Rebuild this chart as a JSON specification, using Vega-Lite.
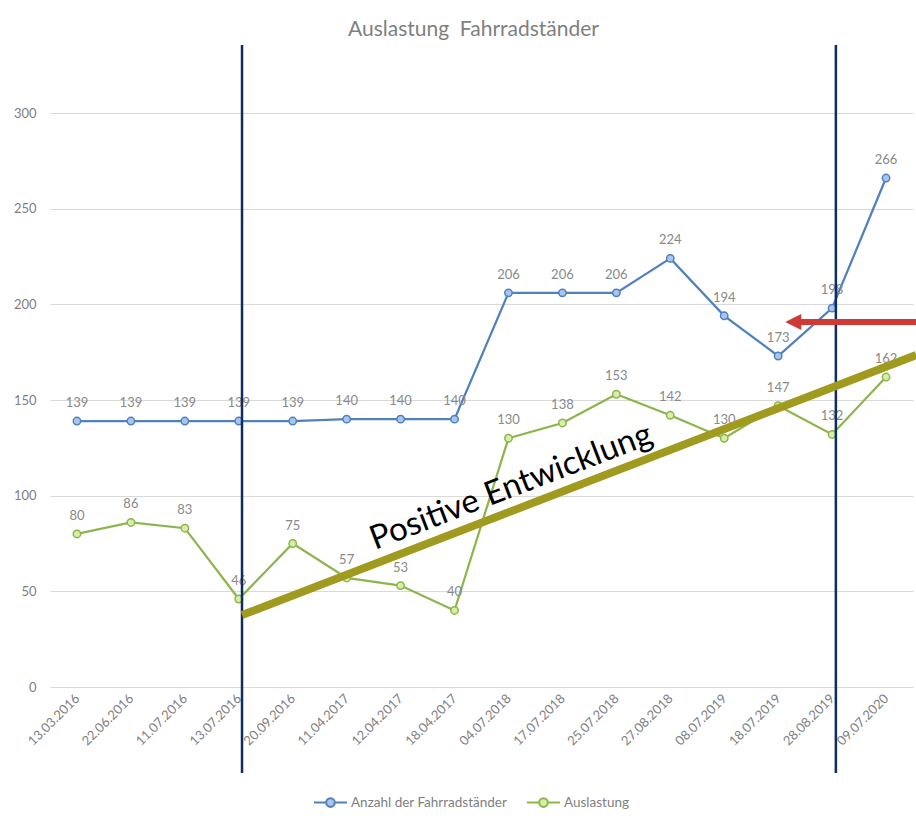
{
  "$schema": "https://vega.github.io/schema/vega-lite/v6.json",
  "width": 863,
  "height": 574,
  "autosize": {"type": "none"},
  "padding": {"left": 50, "top": 113, "right": 3, "bottom": 137},
  "background": "white",
  "config": {
    "view": {"stroke": null},
    "font": "Lato",
    "axis": {"labelFont": "Lato", "labelColor": "#7f7f7f", "labelFontSize": 13},
    "legend": {"labelFont": "Lato", "labelColor": "#7f7f7f", "labelFontSize": 13.5}
  },
  "title": {
    "text": "Auslastung\u00a0 Fahrradständer",
    "fontSize": 21,
    "fontWeight": "normal",
    "color": "#7f7f7f",
    "font": "Lato",
    "frame": "group",
    "anchor": "middle",
    "dx": -8,
    "offset": 4
  },
  "datasets": {
    "main": [
      {"i": 0, "date": "13.03.2016", "series": "Anzahl der Fahrradständer", "value": 139},
      {"i": 1, "date": "22.06.2016", "series": "Anzahl der Fahrradständer", "value": 139},
      {"i": 2, "date": "11.07.2016", "series": "Anzahl der Fahrradständer", "value": 139},
      {"i": 3, "date": "13.07.2016", "series": "Anzahl der Fahrradständer", "value": 139},
      {"i": 4, "date": "20.09.2016", "series": "Anzahl der Fahrradständer", "value": 139},
      {"i": 5, "date": "11.04.2017", "series": "Anzahl der Fahrradständer", "value": 140},
      {"i": 6, "date": "12.04.2017", "series": "Anzahl der Fahrradständer", "value": 140},
      {"i": 7, "date": "18.04.2017", "series": "Anzahl der Fahrradständer", "value": 140},
      {"i": 8, "date": "04.07.2018", "series": "Anzahl der Fahrradständer", "value": 206},
      {"i": 9, "date": "17.07.2018", "series": "Anzahl der Fahrradständer", "value": 206},
      {"i": 10, "date": "25.07.2018", "series": "Anzahl der Fahrradständer", "value": 206},
      {"i": 11, "date": "27.08.2018", "series": "Anzahl der Fahrradständer", "value": 224},
      {"i": 12, "date": "08.07.2019", "series": "Anzahl der Fahrradständer", "value": 194},
      {"i": 13, "date": "18.07.2019", "series": "Anzahl der Fahrradständer", "value": 173},
      {"i": 14, "date": "28.08.2019", "series": "Anzahl der Fahrradständer", "value": 198},
      {"i": 15, "date": "09.07.2020", "series": "Anzahl der Fahrradständer", "value": 266},
      {"i": 0, "date": "13.03.2016", "series": "Auslastung", "value": 80},
      {"i": 1, "date": "22.06.2016", "series": "Auslastung", "value": 86},
      {"i": 2, "date": "11.07.2016", "series": "Auslastung", "value": 83},
      {"i": 3, "date": "13.07.2016", "series": "Auslastung", "value": 46},
      {"i": 4, "date": "20.09.2016", "series": "Auslastung", "value": 75},
      {"i": 5, "date": "11.04.2017", "series": "Auslastung", "value": 57},
      {"i": 6, "date": "12.04.2017", "series": "Auslastung", "value": 53},
      {"i": 7, "date": "18.04.2017", "series": "Auslastung", "value": 40},
      {"i": 8, "date": "04.07.2018", "series": "Auslastung", "value": 130},
      {"i": 9, "date": "17.07.2018", "series": "Auslastung", "value": 138},
      {"i": 10, "date": "25.07.2018", "series": "Auslastung", "value": 153},
      {"i": 11, "date": "27.08.2018", "series": "Auslastung", "value": 142},
      {"i": 12, "date": "08.07.2019", "series": "Auslastung", "value": 130},
      {"i": 13, "date": "18.07.2019", "series": "Auslastung", "value": 147},
      {"i": 14, "date": "28.08.2019", "series": "Auslastung", "value": 132},
      {"i": 15, "date": "09.07.2020", "series": "Auslastung", "value": 162}
    ],
    "vlines": [
      {"x": 3.06, "y": -45, "y2": 335.6},
      {"x": 14.07, "y": -45, "y2": 335.6}
    ],
    "trend": [
      {"x": 3.06, "y": 37.6, "x2": 15.56, "y2": 173.5, "tx": 8.05, "ty": 104.5, "label": "Positive Entwicklung"}
    ],
    "arrow": [
      {"x": 13.28, "x2": 15.56, "y": 190.8}
    ]
  },
  "layer": [
    {
      "data": {"name": "main"},
      "mark": {"type": "line", "strokeWidth": 2.25, "clip": false},
      "encoding": {
        "x": {
          "field": "i", "type": "quantitative",
          "scale": {"domain": [-0.5, 15.5], "nice": false, "zero": false},
          "axis": {
            "title": null,
            "values": [0,1,2,3,4,5,6,7,8,9,10,11,12,13,14,15],
            "labelExpr": "['13.03.2016','22.06.2016','11.07.2016','13.07.2016','20.09.2016','11.04.2017','12.04.2017','18.04.2017','04.07.2018','17.07.2018','25.07.2018','27.08.2018','08.07.2019','18.07.2019','28.08.2019','09.07.2020'][datum.value]",
            "labelAngle": -45,
            "labelAlign": "right",
            "labelBaseline": "middle",
            "labelPadding": 9,
            "labelOverlap": false,
            "labelBound": false,
            "labelFlush": false,
            "grid": false,
            "ticks": false,
            "domain": false
          }
        },
        "y": {
          "field": "value", "type": "quantitative",
          "scale": {"domain": [0, 300], "nice": false},
          "axis": {
            "title": null,
            "values": [0, 50, 100, 150, 200, 250, 300],
            "grid": true,
            "gridColor": "#d9d9d9",
            "gridWidth": 1,
            "ticks": false,
            "domain": false,
            "labelPadding": 14
          }
        },
        "stroke": {
          "field": "series", "type": "nominal",
          "scale": {"domain": ["Anzahl der Fahrradständer", "Auslastung"], "range": ["#4f81bd", "#8db54d"]},
          "legend": {
            "title": null,
            "orient": "none",
            "legendX": 263,
            "legendY": 672,
            "direction": "horizontal",
            "columns": 2,
            "columnPadding": 15,
            "symbolType": "M-1,0L-0.26,0M0.26,0L1,0M-0.26,0A0.26,0.26,0,1,0,0.26,0A0.26,0.26,0,1,0,-0.26,0Z",
            "symbolSize": 1089,
            "symbolStrokeWidth": 2,
            "labelOffset": 3
          }
        }
      }
    },
    {
      "data": {"name": "main"},
      "mark": {"type": "point", "filled": true, "size": 55, "strokeWidth": 1.5, "opacity": 1, "shape": "circle"},
      "encoding": {
        "x": {"field": "i", "type": "quantitative"},
        "y": {"field": "value", "type": "quantitative"},
        "stroke": {"field": "series", "type": "nominal"},
        "fill": {
          "field": "series", "type": "nominal",
          "scale": {"domain": ["Anzahl der Fahrradständer", "Auslastung"], "range": ["#a9c5ee", "#d6eea6"]},
          "legend": {
            "title": null,
            "orient": "none",
            "legendX": 263,
            "legendY": 672,
            "direction": "horizontal",
            "columns": 2,
            "columnPadding": 15,
            "symbolType": "M-1,0L-0.26,0M0.26,0L1,0M-0.26,0A0.26,0.26,0,1,0,0.26,0A0.26,0.26,0,1,0,-0.26,0Z",
            "symbolSize": 1089,
            "symbolStrokeWidth": 2,
            "labelOffset": 3
          }
        }
      }
    },
    {
      "data": {"name": "main"},
      "mark": {"type": "text", "dy": -18, "fontSize": 13, "color": "#898989", "font": "Lato"},
      "encoding": {
        "x": {"field": "i", "type": "quantitative"},
        "y": {"field": "value", "type": "quantitative"},
        "text": {"field": "value", "type": "quantitative"}
      }
    },
    {
      "data": {"name": "vlines"},
      "mark": {"type": "rule", "color": "#0d2d5e", "strokeWidth": 2.5, "clip": false},
      "encoding": {
        "x": {"field": "x", "type": "quantitative"},
        "y": {"field": "y", "type": "quantitative"},
        "y2": {"field": "y2"}
      }
    },
    {
      "data": {"name": "trend"},
      "mark": {"type": "rule", "color": "#a09b1f", "strokeWidth": 8, "clip": false},
      "encoding": {
        "x": {"field": "x", "type": "quantitative"},
        "y": {"field": "y", "type": "quantitative"},
        "x2": {"field": "x2"},
        "y2": {"field": "y2"}
      }
    },
    {
      "data": {"name": "trend"},
      "mark": {"type": "text", "angle": -21, "fontSize": 33, "color": "#000000", "font": "Lato", "align": "center", "baseline": "middle"},
      "encoding": {
        "x": {"field": "tx", "type": "quantitative"},
        "y": {"field": "ty", "type": "quantitative"},
        "text": {"field": "label"}
      }
    },
    {
      "data": {"name": "arrow"},
      "mark": {"type": "rule", "color": "#cf3a36", "strokeWidth": 6, "clip": false},
      "encoding": {
        "x": {"field": "x", "type": "quantitative"},
        "x2": {"field": "x2"},
        "y": {"field": "y", "type": "quantitative"}
      }
    },
    {
      "data": {"name": "arrow"},
      "mark": {"type": "point", "shape": "M-1,0L1,-1L1,1Z", "size": 256, "filled": true, "color": "#cf3a36", "opacity": 1, "clip": false},
      "encoding": {
        "x": {"field": "x", "type": "quantitative"},
        "y": {"field": "y", "type": "quantitative"}
      }
    }
  ]
}
